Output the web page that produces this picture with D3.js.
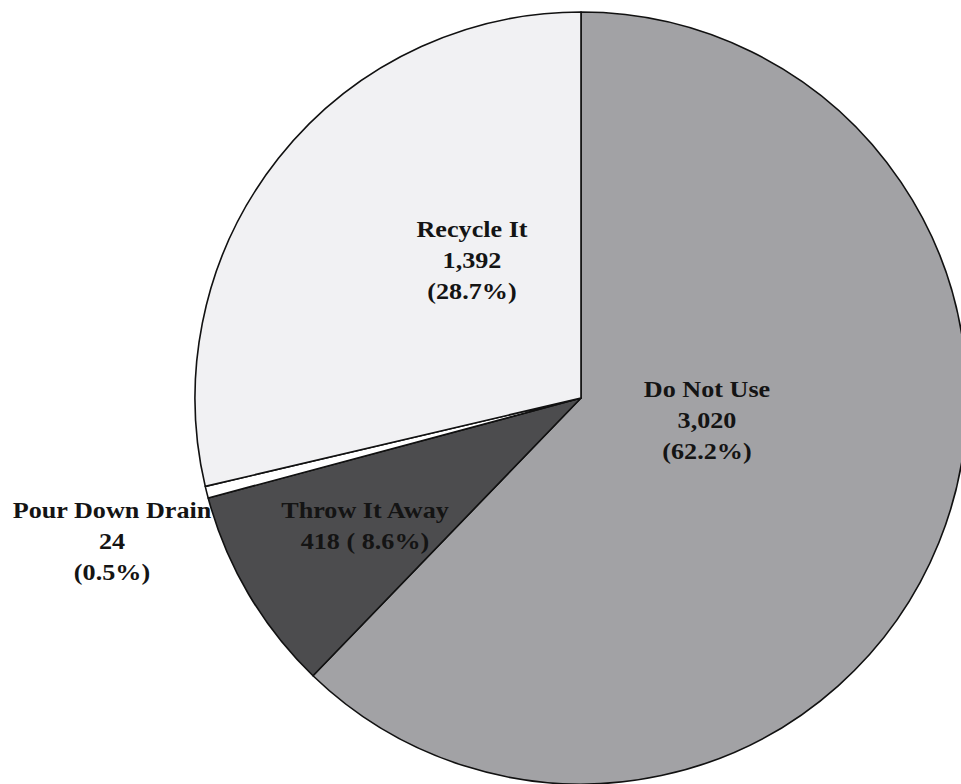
<!DOCTYPE html>
<html>
<head>
<meta charset="utf-8">
<script src="https://cdn.jsdelivr.net/npm/d3@7"></script>
<style>
  body { margin: 0; background: #fff; }
  svg { display: block; }
</style>
</head>
<body>
<svg id="pie"></svg>
<script>
// Slices in clockwise order starting at 12 o'clock
const categories = ["Do Not Use", "Throw It Away", "Pour Down Drain", "Recycle It"];
const counts = [3020, 418, 24, 1392];
const percentLabels = ["62.2%", "8.6%", "0.5%", "28.7%"];
const fills = ["#a2a2a5", "#4c4c4e", "#ffffff", "#f1f1f3"];

const width = 961;
const height = 784;
const radius = 386;
const cx = 581, cy = 398;

const svg = d3.select("#pie")
    .attr("width", width)
    .attr("height", height);

const g = svg.append("g")
    .attr("transform", `translate(${cx}, ${cy})`);

const data = categories.map((c, i) => ({ name: c, value: counts[i], pct: percentLabels[i], fill: fills[i] }));

const pie = d3.pie()
    .sort(null)
    .value(d => d.value);

const arc = d3.arc()
    .innerRadius(0)
    .outerRadius(radius);

const arcs = pie(data);

g.selectAll("path.slice")
    .data(arcs)
    .enter()
    .append("path")
    .attr("class", "slice")
    .attr("d", arc)
    .attr("fill", d => d.data.fill)
    .attr("stroke", "#111")
    .attr("stroke-width", 1.6)
    .attr("stroke-linejoin", "round");

// Label placement (offsets from the pie centre) and the text lines
const labelPos = {
    "Do Not Use": { x: 126, y: -1, lines: d => [d.name, d3.format(",")(d.value), `(${d.pct})`] },
    "Recycle It": { x: -109, y: -161, lines: d => [d.name, d3.format(",")(d.value), `(${d.pct})`] },
    "Throw It Away": { x: -216, y: 120, lines: d => [d.name, `${d.value} ( ${d.pct})`] },
    "Pour Down Drain": { x: -469, y: 120, lines: d => [d.name, d3.format(",")(d.value), `(${d.pct})`] }
};

const lineGap = 31;

arcs.forEach(a => {
    const p = labelPos[a.data.name];
    const t = g.append("text")
        .attr("transform", `translate(${p.x}, ${p.y}) scale(1.09, 1)`)
        .attr("text-anchor", "middle")
        .attr("font-family", "'Liberation Serif', 'Times New Roman', serif")
        .attr("font-weight", "bold")
        .attr("font-size", 24)
        .attr("fill", "#141414");
    p.lines(a.data).forEach((line, i) => {
        t.append("tspan")
            .attr("x", 0)
            .attr("y", i * lineGap)
            .text(line);
    });
});
</script>
</body>
</html>
